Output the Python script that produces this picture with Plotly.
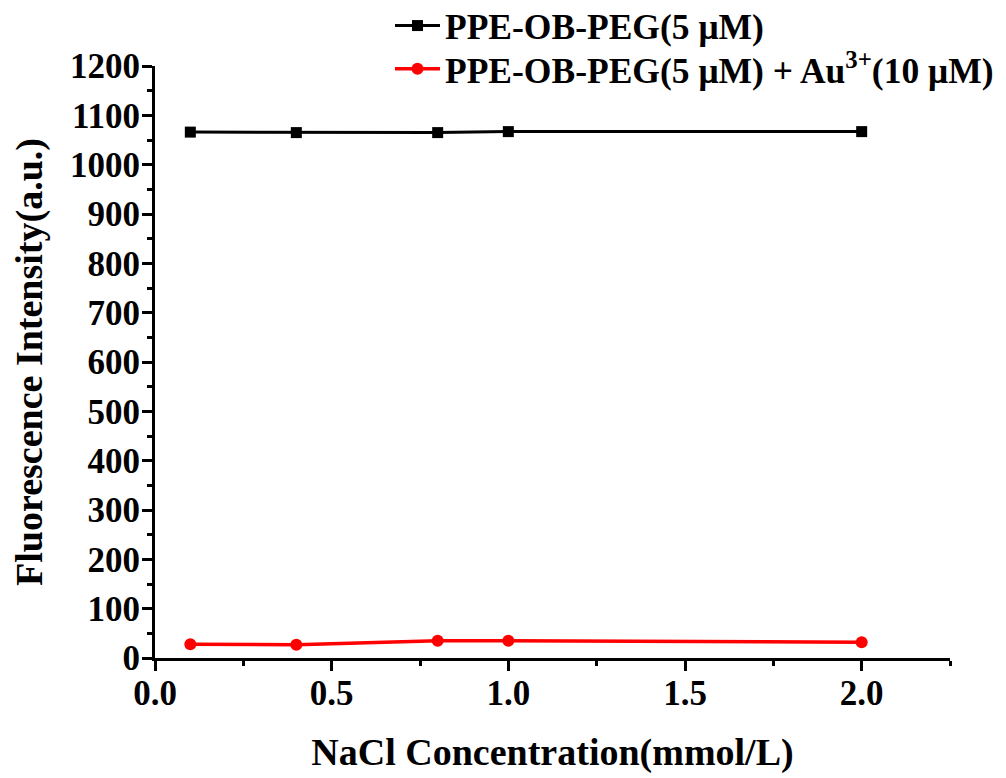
import plotly.graph_objects as go

# NaCl concentration (mmol/L)
nacl = [0.1, 0.4, 0.8, 1.0, 2.0]
# fluorescence intensity (a.u.)
probe_only = [1066, 1065, 1065, 1067, 1067]
probe_au = [28, 27, 35, 35, 32]

name_probe = 'PPE-OB-PEG(5 μM)'
name_au = 'PPE-OB-PEG(5 μM) + Au<sup>3+</sup>(10 μM)'

FONT = 'Liberation Serif'

fig = go.Figure()
fig.add_trace(go.Scatter(
    x=nacl, y=probe_only, name=name_probe, mode='lines+markers',
    line=dict(color='black', width=3),
    marker=dict(symbol='square', size=11, color='black'),
    legend='legend', showlegend=True,
))
fig.add_trace(go.Scatter(
    x=nacl, y=probe_au, name=name_au, mode='lines+markers',
    line=dict(color='#ff0000', width=3.5),
    marker=dict(symbol='circle', size=12, color='#ff0000'),
    legend='legend2', showlegend=True,
))

axis_common = dict(
    showline=True, linecolor='black', linewidth=3,
    ticks='outside', ticklen=10, tickwidth=3, tickcolor='black',
    showgrid=False, zeroline=False, mirror=False, automargin=False,
    tickfont=dict(family=FONT, size=35, color='black', weight='bold'),
)

fig.update_xaxes(
    range=[0, 2.25], dtick=0.5, tickformat='.1f', ticklabelstandoff=-8,
    minor=dict(ticks='outside', dtick=0.25, ticklen=5, tickwidth=3, tickcolor='black'),
    title=dict(text='NaCl Concentration(mmol/L)', standoff=27,
               font=dict(family=FONT, size=38, color='black', weight='bold')),
    **axis_common,
)
fig.update_yaxes(
    range=[0, 1200], dtick=100, ticklabelstandoff=-5,
    minor=dict(ticks='outside', dtick=50, ticklen=5, tickwidth=3, tickcolor='black'),
    title=dict(text='Fluorescence Intensity(a.u.)', standoff=20,
               font=dict(family=FONT, size=38, color='black', weight='bold')),
    **axis_common,
)

legend_style = dict(
    x=0.2956, xanchor='left', yanchor='middle', visible=True,
    font=dict(family=FONT, size=35.5, color='black', weight='bold'),
    bgcolor='rgba(0,0,0,0)', itemwidth=45,
)

fig.update_layout(
    width=1006, height=778,
    margin=dict(l=147, r=64, t=58, b=128, autoexpand=False),
    paper_bgcolor='white', plot_bgcolor='white',
    font=dict(family=FONT, color='black', weight='bold'),
    showlegend=True,
    legend=dict(y=1.0676, **legend_style),
    legend2=dict(y=0.9948, **legend_style),
)

fig.write_html('out.html')
